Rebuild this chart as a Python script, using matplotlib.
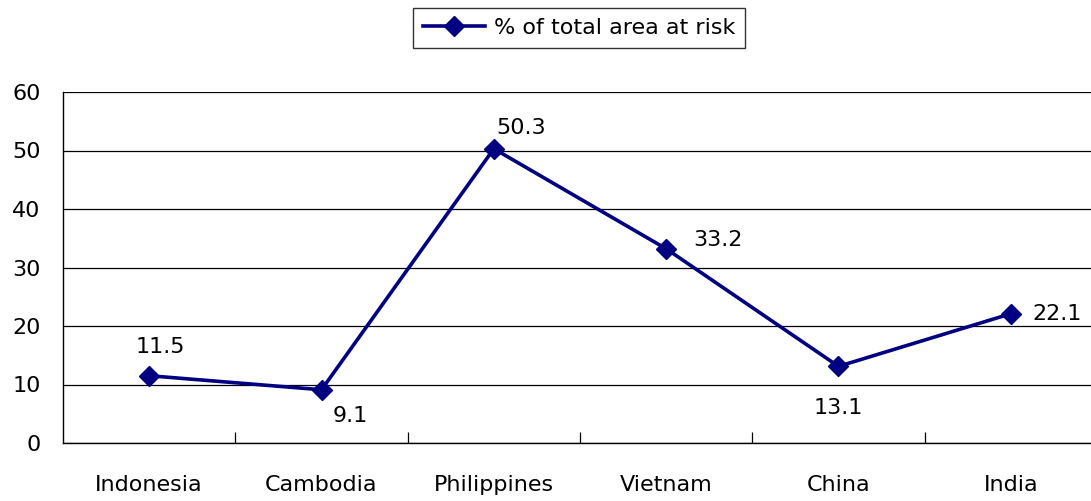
import matplotlib
matplotlib.use("Agg")
import matplotlib.pyplot as plt

# 数据
countries = ["Indonesia", "Cambodia", "Philippines", "Vietnam", "China", "India"]
risk_pct = [11.5, 9.1, 50.3, 33.2, 13.1, 22.1]
series_name = "% of total area at risk"
# 标签偏移 (points)
label_offsets = [(8, 21), (21, -19), (20, 15), (37, 6), (0, -30), (33, 0)]

NAVY = "#000080"
plt.rcParams["font.family"] = ["DejaVu Sans"]

fig = plt.figure(figsize=(10.91, 5.01), dpi=100)
fig.set_facecolor("white")
ax = fig.add_axes([63 / 1091, 1 - 443 / 501, 1034 / 1091, 351 / 501])

x = list(range(len(countries)))
line, = ax.plot(x, risk_pct, color=NAVY, linewidth=2.6, marker="D",
                markersize=10, markerfacecolor=NAVY, markeredgecolor=NAVY,
                label=series_name, zorder=3, clip_on=False)

for xi, v, (dx, dy) in zip(x, risk_pct, label_offsets):
    ax.annotate(f"{v}", (xi, v), xytext=(dx, dy), textcoords="offset points",
                ha="center", va="center", fontsize=16, color="black")

ax.set_xlim(-0.5, len(countries) - 0.5)
ax.set_ylim(0, 60)
ax.set_yticks(range(0, 61, 10))
ax.yaxis.grid(True, color="black", linewidth=0.9)
ax.set_axisbelow(True)

# 类别刻度 + 分隔刻度
ax.set_xticks(x)
ax.set_xticklabels(countries, fontsize=16)
ax.tick_params(axis="x", which="major", length=0, pad=23)
ax.set_xticks([i + 0.5 for i in x[:-1]], minor=True)
ax.tick_params(axis="x", which="minor", direction="in", length=8, width=0.9)
ax.tick_params(axis="y", length=0, labelsize=16, pad=16)

for s in ["top", "right"]:
    ax.spines[s].set_visible(False)
for s in ["left", "bottom"]:
    ax.spines[s].set_linewidth(1.0)

leg = fig.legend(handles=[line], loc="center", bbox_to_anchor=(579 / 1091, 1 - 28 / 501),
                 fontsize=16, frameon=True, fancybox=False, edgecolor="black",
                 handlelength=2.8, borderpad=0.45, handletextpad=0.4,
                 borderaxespad=0)
leg.get_frame().set_linewidth(1.0)

fig.savefig("out.png", dpi=100, facecolor="white")
